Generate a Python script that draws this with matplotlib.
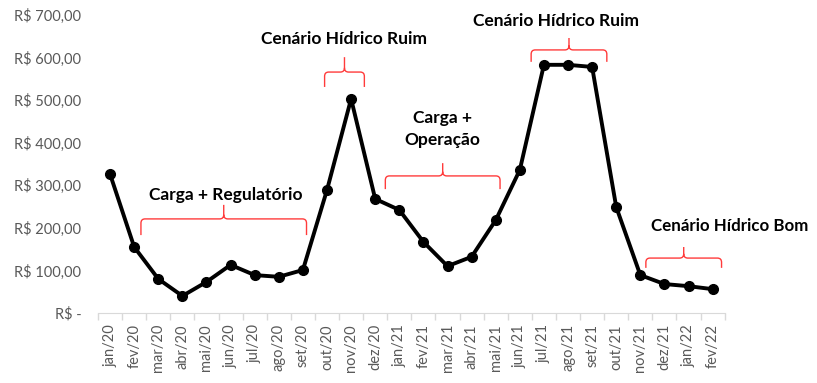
import matplotlib
matplotlib.use("Agg")
import matplotlib.pyplot as plt
from matplotlib.path import Path
from matplotlib.patches import PathPatch

# data
meses = ["jan/20", "fev/20", "mar/20", "abr/20", "mai/20", "jun/20", "jul/20",
         "ago/20", "set/20", "out/20", "nov/20", "dez/20", "jan/21", "fev/21",
         "mar/21", "abr/21", "mai/21", "jun/21", "jul/21", "ago/21", "set/21",
         "out/21", "nov/21", "dez/21", "jan/22", "fev/22"]
valores = [326, 155, 80, 40, 73, 113, 89, 85, 101, 289, 503, 268, 242, 167,
           110, 132, 218, 336, 583, 583, 578, 249, 89, 68, 63, 56]
yticks = [0, 100, 200, 300, 400, 500, 600, 700]
ylabels = ["R$ -", "R$ 100,00", "R$ 200,00", "R$ 300,00", "R$ 400,00",
           "R$ 500,00", "R$ 600,00", "R$ 700,00"]

# braces: x0, x1, y of horizontal line, y of tip, y of ends
chaves = [(1.28, 8.15, 221, 254, 183),
          (8.9, 10.55, 566, 601, 531),
          (11.42, 16.18, 322, 352, 291),
          (17.47, 20.61, 618, 646, 590),
          (22.23, 25.37, 129, 155, 106)]
textos = [(4.8, 278, "Carga + Regulatório", "center", 12.5),
          (9.7, 643, "Cenário Hídrico Ruim", "center", 12.5),
          (13.8, 432, "Carga +\nOperação", "center", 12.5),
          (18.5, 686, "Cenário Hídrico Ruim", "center", 12.5),
          (22.45, 205, "Cenário Hídrico Bom", "left", 12.2)]

cinza = "#595959"
fig = plt.figure(figsize=(8.17, 3.83), dpi=100)
ax = fig.add_axes([0.12, 0.1828, 0.767, 0.778])

x = list(range(len(meses)))
ax.plot(x, valores, color="black", lw=2.8, marker="o", ms=7, zorder=3)

ax.set_xlim(-0.5, len(meses) - 0.5)
ax.set_ylim(0, 700)
ax.set_yticks(yticks)
ax.set_yticklabels(ylabels, fontsize=10.5, color=cinza, family="Lato")
ax.tick_params(axis="y", length=0, pad=12)

ax.set_xticks(x)
ax.set_xticklabels(meses, rotation=90, fontsize=10.5, color=cinza, family="Lato")
ax.tick_params(axis="x", length=0, pad=8)
ax.set_xticks([i - 0.5 for i in range(len(meses) + 1)], minor=True)
ax.tick_params(axis="x", which="minor", length=5, color="#d9d9d9", width=1)

for s in ["top", "right", "left"]:
    ax.spines[s].set_visible(False)
ax.spines["bottom"].set_color("#d9d9d9")


def chave(x0, x1, yh, ytip, yend):
    rx, ry = 0.17, 10
    xm = (x0 + x1) / 2
    verts = [(x0, yend), (x0, yh - ry), (x0, yh), (x0 + rx, yh),
             (xm - rx, yh), (xm, yh), (xm, yh + ry), (xm, ytip),
             (xm, yh + ry), (xm, yh), (xm + rx, yh),
             (x1 - rx, yh), (x1, yh), (x1, yh - ry), (x1, yend)]
    codes = [Path.MOVETO, Path.LINETO, Path.CURVE3, Path.CURVE3,
             Path.LINETO, Path.CURVE3, Path.CURVE3, Path.LINETO,
             Path.MOVETO, Path.CURVE3, Path.CURVE3,
             Path.LINETO, Path.CURVE3, Path.CURVE3, Path.LINETO]
    ax.add_patch(PathPatch(Path(verts, codes), fill=False, ec="#ff3b3b", lw=1.0,
                           clip_on=False))


for c in chaves:
    chave(*c)

for tx, ty, t, ha, fs in textos:
    ax.text(tx, ty, t, ha=ha, va="center", fontsize=fs, fontweight="bold",
            family="Lato", color="black", linespacing=1.5, clip_on=False)

fig.savefig("out.png", dpi=100)
